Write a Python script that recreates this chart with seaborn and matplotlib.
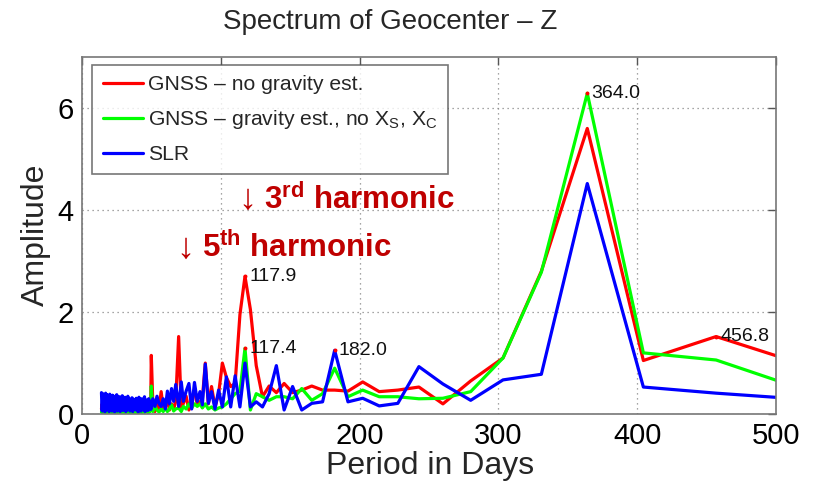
import numpy as np
import pandas as pd
import matplotlib
matplotlib.use("Agg")
import matplotlib.pyplot as plt
import seaborn as sns

# ---------------- data ----------------
period = [14, 14.5, 15, 15.5, 16, 16.5, 17, 17.5, 18, 18.5, 19, 19.5,
          20, 20.5, 21, 21.5, 22, 22.5, 23, 23.5, 24, 24.5, 25, 25.5,
          26, 26.5, 27, 27.5, 28, 28.5, 29, 29.5, 30, 30.5, 31, 31.5,
          32, 32.5, 33, 33.5, 34, 34.5, 35, 35.5, 36, 36.5, 37, 37.5,
          38, 38.5, 39, 39.5, 40, 40.5, 41, 41.5, 42, 42.5, 43, 43.5,
          44, 44.5, 45, 45.5, 46, 46.5, 47, 47.5, 48, 48.5, 49, 49.5,
          49.9, 51, 52.5, 54, 55.5, 57, 58.5, 60, 61.5, 63, 64.5, 66, 67.5, 69.6,
          71.5, 73, 75, 77, 79, 81, 83, 85, 86.7, 88.8, 91, 93.3, 95.8, 98.4,
          101.1, 104, 107.1, 110.3, 113.75, 117.4, 121.3, 125.5, 130, 134.8, 140,
          145.6, 151.7, 158.3, 165.5, 173.3, 182, 191.6, 202.2, 214.1, 227.5,
          242.7, 260, 280, 303.3, 330.9, 364, 404.4, 456.8, 520]

gnss_no_grav = [0.10, 0.20, 0.04, 0.15, 0.08, 0.22, 0.03, 0.18, 0.06, 0.12, 0.02, 0.20,
                0.07, 0.16, 0.04, 0.24, 0.05, 0.14, 0.09, 0.19, 0.03, 0.13, 0.06, 0.22,
                0.04, 0.17, 0.08, 0.12, 0.03, 0.21, 0.06, 0.15, 0.10, 0.25, 0.04, 0.14,
                0.07, 0.20, 0.03, 0.16, 0.09, 0.12, 0.05, 0.23, 0.04, 0.18, 0.08, 0.28,
                0.05, 0.14, 0.10, 0.20, 0.03, 0.17, 0.06, 0.24, 0.08, 0.13, 0.04, 0.19,
                0.07, 0.26, 0.05, 0.15, 0.10, 0.22, 0.04, 0.18, 0.09, 0.30, 0.06, 0.20,
                1.15, 0.20, 0.05, 0.24, 0.10, 0.44, 0.12, 0.14, 0.30, 0.08, 0.20, 0.10,
                0.25, 1.52, 0.10, 0.21, 0.35, 0.08, 0.30, 0.44, 0.20, 0.24, 0.30, 1.00,
                0.20, 0.54, 0.14, 0.40,
                1.00, 0.72, 0.54, 0.60, 1.95, 2.70, 2.05, 0.95, 0.34, 0.55, 0.42,
                0.60, 0.42, 0.47, 0.55, 0.47, 0.47, 0.45, 0.63, 0.44, 0.47,
                0.53, 0.20, 0.65, 1.10, 2.80, 5.60, 1.05, 1.52, 0.97]

gnss_grav = [0.04, 0.02, 0.07, 0.03, 0.05, 0.02, 0.09, 0.03, 0.06, 0.02, 0.08, 0.04,
             0.03, 0.10, 0.02, 0.06, 0.04, 0.08, 0.02, 0.05, 0.03, 0.11, 0.02, 0.07,
             0.04, 0.09, 0.02, 0.06, 0.03, 0.12, 0.02, 0.05, 0.04, 0.08, 0.03, 0.10,
             0.02, 0.07, 0.04, 0.13, 0.03, 0.06, 0.02, 0.09, 0.05, 0.11, 0.03, 0.07,
             0.04, 0.12, 0.02, 0.08, 0.05, 0.14, 0.03, 0.06, 0.04, 0.10, 0.02, 0.09,
             0.05, 0.13, 0.03, 0.07, 0.06, 0.15, 0.04, 0.09, 0.03, 0.12, 0.05, 0.18,
             0.55, 0.05, 0.15, 0.08, 0.04, 0.10, 0.05, 0.12, 0.05, 0.10, 0.18, 0.06,
             0.10, 0.12, 0.05, 0.15, 0.10, 0.20, 0.12, 0.20, 0.15, 0.20, 0.12, 0.20,
             0.10, 0.14, 0.08, 0.12,
             0.14, 0.20, 0.30, 0.40, 0.45, 1.29, 0.08, 0.40, 0.34, 0.27, 0.34,
             0.34, 0.30, 0.50, 0.27, 0.40, 0.90, 0.34, 0.47, 0.34, 0.34,
             0.30, 0.31, 0.44, 1.10, 2.78, 6.29, 1.20, 1.06, 0.48]

slr = [0.42, 0.06, 0.40, 0.10, 0.36, 0.04, 0.41, 0.08, 0.38, 0.12, 0.34, 0.05,
       0.39, 0.09, 0.33, 0.06, 0.37, 0.11, 0.35, 0.04, 0.32, 0.08, 0.38, 0.06,
       0.30, 0.10, 0.34, 0.05, 0.31, 0.09, 0.36, 0.07, 0.29, 0.12, 0.33, 0.05,
       0.28, 0.08, 0.35, 0.10, 0.30, 0.06, 0.26, 0.11, 0.32, 0.05, 0.29, 0.09,
       0.25, 0.12, 0.31, 0.07, 0.27, 0.04, 0.33, 0.10, 0.24, 0.06, 0.30, 0.12,
       0.26, 0.08, 0.34, 0.05, 0.28, 0.10, 0.22, 0.07, 0.30, 0.12, 0.25, 0.09,
       0.12, 0.30, 0.15, 0.35, 0.20, 0.15, 0.30, 0.10, 0.45, 0.20, 0.50, 0.25,
       0.58, 0.15, 0.63, 0.25, 0.45, 0.60, 0.10, 0.62, 0.25, 0.44, 0.18, 0.98,
       0.21, 0.44, 0.10, 0.47,
       0.14, 0.73, 0.14, 0.75, 0.14, 1.00, 0.14, 0.24, 0.14, 0.40, 0.95,
       0.08, 0.54, 0.08, 0.21, 0.24, 1.25, 0.24, 0.31, 0.16, 0.21,
       0.93, 0.59, 0.27, 0.67, 0.78, 4.52, 0.53, 0.41, 0.29]

series_names = ["GNSS \u2013 no gravity est.",
                "GNSS \u2013 gravity est., no X$_\\mathrm{S}$, X$_\\mathrm{C}$",
                "SLR"]
series_colors = ["#ff0000", "#00ff00", "#0000ff"]

# data-tip annotations: (series index, period, text)
tip_series = [0, 1, 2, 1, 0]
tip_period = [117.4, 117.4, 182, 364, 456.8]
tip_text = ["117.9", "117.4", "182.0", "364.0", "456.8"]

x_ticks = [0, 100, 200, 300, 400, 500]
y_ticks = [0, 2, 4, 6]

# ---------------- style ----------------
sns.set_theme(style="white")
plt.rcParams["font.family"] = ["Liberation Sans", "DejaVu Sans"]
plt.rcParams["mathtext.fontset"] = "custom"
plt.rcParams["mathtext.rm"] = "Liberation Sans"
plt.rcParams["mathtext.it"] = "Liberation Sans:italic"
plt.rcParams["mathtext.bf"] = "Liberation Sans:bold"

values = [gnss_no_grav, gnss_grav, slr]
df = pd.concat([pd.DataFrame({"period": period, "amp": v, "series": n})
                for v, n in zip(values, series_names)], ignore_index=True)

fig = plt.figure(figsize=(8.17, 4.86), dpi=100)
ax = fig.add_axes([0.1004, 0.148, 0.8495, 0.7346])

sns.lineplot(data=df, x="period", y="amp", hue="series", hue_order=series_names,
             palette=dict(zip(series_names, series_colors)), estimator=None,
             sort=False, linewidth=2.3, ax=ax, legend=False)

ax.set_xlim(0, 500)
ax.set_ylim(0, 7)
ax.set_xticks(x_ticks)
ax.set_yticks(y_ticks)
ax.set_xticklabels([str(t) for t in x_ticks])
ax.set_yticklabels([str(t) for t in y_ticks])
ax.tick_params(axis="both", direction="in", length=6, width=1.0, color="#555555",
               labelsize=21, labelcolor="black", top=True, right=True, pad=6)
ax.grid(True, linestyle=(0, (1, 3)), color="#888888", linewidth=0.9)
for s in ax.spines.values():
    s.set_color("#777777")
    s.set_linewidth(1.2)
ax.set_xlabel("")
ax.set_ylabel("")

# legend
handles = [plt.Line2D([], [], color=c, linewidth=2.3) for c in series_colors]
leg = ax.legend(handles, series_names, loc="upper left", bbox_to_anchor=(0.0145, 0.978),
                fontsize=15.2, frameon=True, fancybox=False, handlelength=1.9,
                handletextpad=0.25, labelspacing=0.65, borderpad=0.5, borderaxespad=0)
leg.get_frame().set_edgecolor("#555555")
leg.get_frame().set_linewidth(1.2)

# data tips
for si, p, t in zip(tip_series, tip_period, tip_text):
    yv = values[si][period.index(p)]
    ax.plot([p], [yv], "o", color="#ff0000", markersize=1.8, zorder=5)
    ax.annotate(t, (p, yv), xytext=(3, 0), textcoords="offset points",
                fontsize=14, va="center", ha="left", color="#111111")

# harmonic annotations
dark_red = "#bf0000"
ax.annotate("\u2193", (119, 4.2), fontsize=26, color=dark_red, ha="center", va="center")
ax.annotate(r"$\mathbf{3^{rd}}$ harmonic", (119, 4.2), xytext=(12, 0),
            textcoords="offset points", fontsize=22.5, fontweight="bold",
            color=dark_red, ha="left", va="center")
ax.annotate("\u2193", (74.5, 3.25), fontsize=26, color=dark_red, ha="center", va="center")
ax.annotate(r"$\mathbf{5^{th}}$ harmonic", (74.5, 3.25), xytext=(12, 0),
            textcoords="offset points", fontsize=22.5, fontweight="bold",
            color=dark_red, ha="left", va="center")

fig.text(390 / 817, 1 - 22 / 486, "Spectrum of Geocenter \u2013 Z", fontsize=20,
         ha="center", va="center")
fig.text(430 / 817, 1 - 466 / 486, "Period in Days", fontsize=23, ha="center", va="center")
fig.text(36 / 817, 1 - 235 / 486, "Amplitude", fontsize=23, ha="center", va="center",
         rotation=90)

fig.savefig("out.png", dpi=100)
